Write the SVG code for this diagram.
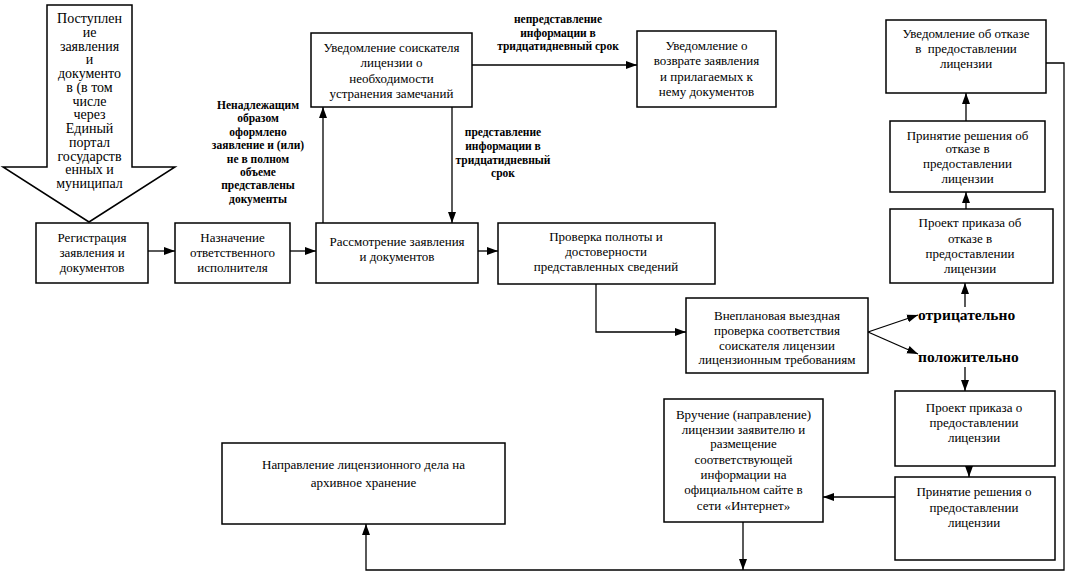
<svg xmlns="http://www.w3.org/2000/svg" width="1074" height="581" viewBox="0 0 1074 581">
<style>
.box{fill:#fff;stroke:#000;stroke-width:1.5}
.t{font-family:"Liberation Serif","Times New Roman",serif;font-size:13px;fill:#000;text-anchor:middle}
.big{font-size:14px}
.lb{font-family:"Liberation Serif","Times New Roman",serif;font-size:11.5px;font-weight:bold;fill:#000;text-anchor:middle}
.res{font-family:"Liberation Serif","Times New Roman",serif;font-size:15.5px;font-weight:bold;fill:#000}
.c{fill:none;stroke:#000;stroke-width:1.3}
</style>
<defs>
<marker id="ah" markerUnits="userSpaceOnUse" markerWidth="12" markerHeight="10" refX="11" refY="5" orient="auto">
<path d="M0,1 L11,5 L0,9 Z" fill="#000"/>
</marker>
</defs>
<rect width="1074" height="581" fill="#fff"/>

<g id="connectors">
<line class="c" x1="148" y1="251" x2="175" y2="251" marker-end="url(#ah)"/>
<line class="c" x1="290" y1="251" x2="316" y2="251" marker-end="url(#ah)"/>
<line class="c" x1="478" y1="251" x2="498" y2="251" marker-end="url(#ah)"/>
<line class="c" x1="323" y1="223" x2="323" y2="107" marker-end="url(#ah)"/>
<line class="c" x1="452" y1="107" x2="452" y2="223" marker-end="url(#ah)"/>
<line class="c" x1="472" y1="65" x2="637" y2="65" marker-end="url(#ah)"/>
<polyline class="c" points="596,284 596,332 686,332" marker-end="url(#ah)"/>
<line class="c" x1="868" y1="332" x2="918" y2="315" marker-end="url(#ah)"/>
<line class="c" x1="868" y1="332" x2="918" y2="354" marker-end="url(#ah)"/>
<line class="c" x1="965" y1="307" x2="965" y2="283" marker-end="url(#ah)"/>
<line class="c" x1="966" y1="209" x2="966" y2="192" marker-end="url(#ah)"/>
<line class="c" x1="966" y1="121" x2="966" y2="93" marker-end="url(#ah)"/>
<line class="c" x1="965" y1="367" x2="965" y2="391" marker-end="url(#ah)"/>
<line class="c" x1="969" y1="466" x2="969" y2="477" marker-end="url(#ah)"/>
<line class="c" x1="895" y1="497" x2="823" y2="497" marker-end="url(#ah)"/>
<line class="c" x1="743" y1="522" x2="743" y2="570" marker-end="url(#ah)"/>
<polyline class="c" points="1046,63 1064,63 1064,570 366,570 366,524" marker-end="url(#ah)"/>
<text class="lb" x="558" y="23">непредставление</text>
<text class="lb" x="558" y="37">информации в</text>
<text class="lb" x="558" y="50">тридцатидневный срок</text>
<text class="lb" x="503" y="136">представление</text>
<text class="lb" x="503" y="150">информации в</text>
<text class="lb" x="503" y="163.5">тридцатидневный</text>
<text class="lb" x="503" y="177">срок</text>
<text class="lb" x="258" y="109">Ненадлежащим</text>
<text class="lb" x="258" y="122.4">образом</text>
<text class="lb" x="258" y="135.8">оформлено</text>
<text class="lb" x="258" y="149.2">заявление и (или)</text>
<text class="lb" x="258" y="162.6">не в полном</text>
<text class="lb" x="258" y="176">объеме</text>
<text class="lb" x="258" y="189.4">представлены</text>
<text class="lb" x="258" y="202.8">документы</text>
<text class="res" x="918" y="320">отрицательно</text>
<text class="res" x="918" y="362">положительно</text>
</g>

<g id="n-postuplenie">
<polygon class="box" points="47,5 132,5 132,167 175,167 89,222 3,167 47,167"/>
<text class="t big" x="89.5" y="23">Поступлен</text>
<text class="t big" x="89.5" y="36.75">ие</text>
<text class="t big" x="89.5" y="50.5">заявления</text>
<text class="t big" x="89.5" y="64.25">и</text>
<text class="t big" x="89.5" y="78">документо</text>
<text class="t big" x="89.5" y="91.75">в (в том</text>
<text class="t big" x="89.5" y="105.5">числе</text>
<text class="t big" x="89.5" y="119.25">через</text>
<text class="t big" x="89.5" y="133">Единый</text>
<text class="t big" x="89.5" y="146.75">портал</text>
<text class="t big" x="89.5" y="160.5">государств</text>
<text class="t big" x="89.5" y="174.25">енных и</text>
<text class="t big" x="89.5" y="188">муниципал</text>
</g>

<g id="n-registr">
<rect class="box" x="36" y="223" width="112" height="60"/>
<text class="t" x="92" y="241.5">Регистрация</text>
<text class="t" x="92" y="256.5">заявления и</text>
<text class="t" x="92" y="271.5">документов</text>
</g>

<g id="n-naznach">
<rect class="box" x="175" y="223" width="115" height="60"/>
<text class="t" x="232.5" y="241.5">Назначение</text>
<text class="t" x="232.5" y="256.5">ответственного</text>
<text class="t" x="232.5" y="271.5">исполнителя</text>
</g>

<g id="n-rassm">
<rect class="box" x="316" y="223" width="162" height="60"/>
<text class="t" x="397" y="246">Рассмотрение заявления</text>
<text class="t" x="397" y="261">и документов</text>
</g>

<g id="n-proverka">
<rect class="box" x="498" y="223" width="217" height="61"/>
<text class="t" x="606" y="240.5">Проверка полноты и</text>
<text class="t" x="606" y="255.5">достоверности</text>
<text class="t" x="606" y="270.5">представленных сведений</text>
</g>

<g id="n-vneplan">
<rect class="box" x="686" y="298" width="182" height="75"/>
<text class="t" x="777" y="319.5">Внеплановая выездная</text>
<text class="t" x="777" y="334.5">проверка соответствия</text>
<text class="t" x="777" y="349.5">соискателя лицензии</text>
<text class="t" x="777" y="363.5">лицензионным требованиям</text>
</g>

<g id="n-uved-soisk">
<rect class="box" x="311" y="33" width="161" height="74"/>
<text class="t" x="391.5" y="51.5">Уведомление соискателя</text>
<text class="t" x="391.5" y="67">лицензии о</text>
<text class="t" x="391.5" y="82.5">необходимости</text>
<text class="t" x="391.5" y="98">устранения замечаний</text>
</g>

<g id="n-uved-vozvr">
<rect class="box" x="637" y="31" width="139" height="76"/>
<text class="t" x="706.5" y="49.5">Уведомление о</text>
<text class="t" x="706.5" y="65">возврате заявления</text>
<text class="t" x="706.5" y="80.5">и прилагаемых к</text>
<text class="t" x="706.5" y="96">нему документов</text>
</g>

<g id="n-uved-otkaz">
<rect class="box" x="886" y="20" width="160" height="73"/>
<text class="t" x="966" y="37.5">Уведомление об отказе</text>
<text class="t" x="966" y="52.5" style="white-space:pre">в  предоставлении</text>
<text class="t" x="966" y="67.5">лицензии</text>
</g>

<g id="n-prin-otkaz">
<rect class="box" x="890" y="121" width="155" height="71"/>
<text class="t" x="967.5" y="139.5">Принятие решения об</text>
<text class="t" x="967.5" y="153">отказе в</text>
<text class="t" x="967.5" y="167.5">предоставлении</text>
<text class="t" x="967.5" y="182.5">лицензии</text>
</g>

<g id="n-proekt-otkaz">
<rect class="box" x="890" y="209" width="163" height="74"/>
<text class="t" x="970" y="226.5">Проект приказа об</text>
<text class="t" x="970" y="242.5">отказе в</text>
<text class="t" x="970" y="257.5">предоставлении</text>
<text class="t" x="970" y="272.5">лицензии</text>
</g>

<g id="n-proekt-pred">
<rect class="box" x="895" y="391" width="160" height="75"/>
<text class="t" x="974" y="411.5">Проект приказа о</text>
<text class="t" x="974" y="426.5">предоставлении</text>
<text class="t" x="974" y="441.5">лицензии</text>
</g>

<g id="n-prin-pred">
<rect class="box" x="895" y="477" width="160" height="83"/>
<text class="t" x="974" y="495.5">Принятие решения о</text>
<text class="t" x="974" y="511.5">предоставлении</text>
<text class="t" x="974" y="526.5">лицензии</text>
</g>

<g id="n-vruch">
<rect class="box" x="664" y="399" width="159" height="123"/>
<text class="t" x="743.5" y="418.5">Вручение (направление)</text>
<text class="t" x="743.5" y="433.5">лицензии заявителю и</text>
<text class="t" x="743.5" y="448">размещение</text>
<text class="t" x="743.5" y="463.5">соответствующей</text>
<text class="t" x="743.5" y="478.5">информации на</text>
<text class="t" x="743.5" y="493.5">официальном сайте в</text>
<text class="t" x="743.5" y="509.5">сети «Интернет»</text>
</g>

<g id="n-napravl">
<rect class="box" x="222" y="443" width="283" height="81"/>
<text class="t" x="363.5" y="468.5">Направление лицензионного дела на</text>
<text class="t" x="363.5" y="486.5">архивное хранение</text>
</g>
</svg>
